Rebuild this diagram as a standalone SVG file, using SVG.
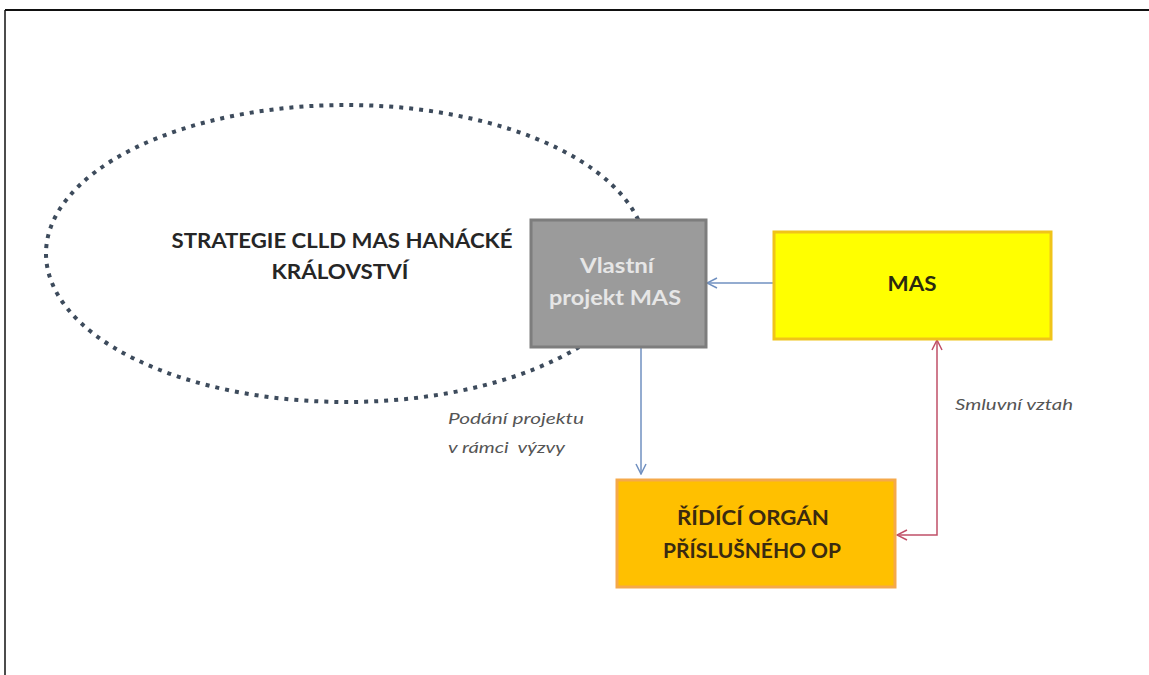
<svg xmlns="http://www.w3.org/2000/svg" width="1149" height="675" viewBox="0 0 1149 675">
<style>
.bold{font-family:Lato,"Liberation Sans",sans-serif;font-weight:bold;text-anchor:middle}
.ital{font-family:Lato,"Liberation Sans",sans-serif;font-style:italic;fill:#555555;font-size:15px}
.blue{stroke:#7090c0;stroke-width:1.5;fill:none}
.red{stroke:#c05068;stroke-width:1.5;fill:none}
</style>
<defs>
<marker id="ab" viewBox="0 0 12 12" refX="11" refY="6" markerWidth="12" markerHeight="12" markerUnits="userSpaceOnUse" orient="auto-start-reverse">
<path d="M1,1 L11,6 L1,11" fill="none" stroke="#7090c0" stroke-width="1.5"/>
</marker>
<marker id="ar" viewBox="0 0 12 12" refX="11" refY="6" markerWidth="12" markerHeight="12" markerUnits="userSpaceOnUse" orient="auto-start-reverse">
<path d="M1,1 L11,6 L1,11" fill="none" stroke="#c05068" stroke-width="1.5"/>
</marker>
</defs>
<rect x="0" y="0" width="1149" height="675" fill="#ffffff"/>
<g id="frame">
<line x1="5" y1="10" x2="1149" y2="10" stroke="#111" stroke-width="2"/>
<line x1="5" y1="10" x2="5" y2="675" stroke="#111" stroke-width="1.5"/>
</g>
<g id="strategie">
<ellipse cx="346" cy="253.5" rx="300" ry="148.5" fill="none" stroke="#3d4b5c" stroke-width="4" stroke-dasharray="4 6"/>
<text class="bold" x="342" y="248" font-size="21" fill="#262626" textLength="341" lengthAdjust="spacingAndGlyphs">STRATEGIE CLLD MAS HANÁCKÉ</text>
<text class="bold" x="340" y="279" font-size="21" fill="#262626" textLength="137" lengthAdjust="spacingAndGlyphs">KRÁLOVSTVÍ</text>
</g>
<g id="connectors">
<line class="blue" x1="773" y1="283" x2="707" y2="283" marker-end="url(#ab)"/>
<line class="blue" x1="641" y1="347" x2="641" y2="474" marker-end="url(#ab)"/>
<polyline class="red" points="897,535 937,535 937,340" marker-start="url(#ar)" marker-end="url(#ar)"/>
</g>
<g id="vlastni">
<rect x="531" y="220" width="175" height="127" fill="#9b9b9b" stroke="#7d7d7d" stroke-width="3"/>
<text class="bold" x="617" y="273" font-size="21" fill="#e6e6e6" textLength="74" lengthAdjust="spacingAndGlyphs">Vlastní</text>
<text class="bold" x="615" y="305" font-size="21" fill="#e6e6e6" textLength="132" lengthAdjust="spacingAndGlyphs">projekt MAS</text>
</g>
<g id="mas">
<rect x="774" y="232" width="277" height="107" fill="#ffff00" stroke="#f0c419" stroke-width="3"/>
<text class="bold" x="912" y="291" font-size="20" fill="#2a2a10" textLength="49" lengthAdjust="spacingAndGlyphs">MAS</text>
</g>
<g id="ridici">
<rect x="617" y="480" width="278" height="107" fill="#ffc000" stroke="#f5a94a" stroke-width="3"/>
<text class="bold" x="753" y="525" font-size="20" fill="#3a2a10" textLength="152" lengthAdjust="spacingAndGlyphs">ŘÍDÍCÍ ORGÁN</text>
<text class="bold" x="752" y="558" font-size="20" fill="#3a2a10" textLength="178" lengthAdjust="spacingAndGlyphs">PŘÍSLUŠNÉHO OP</text>
</g>
<g id="labels">
<text class="ital" x="448" y="424" textLength="136" lengthAdjust="spacingAndGlyphs">Podání projektu</text>
<text class="ital" x="448" y="453" style="white-space:pre" textLength="117" lengthAdjust="spacingAndGlyphs">v rámci  výzvy</text>
<text class="ital" x="955" y="410" textLength="118" lengthAdjust="spacingAndGlyphs">Smluvní vztah</text>
</g>
</svg>
